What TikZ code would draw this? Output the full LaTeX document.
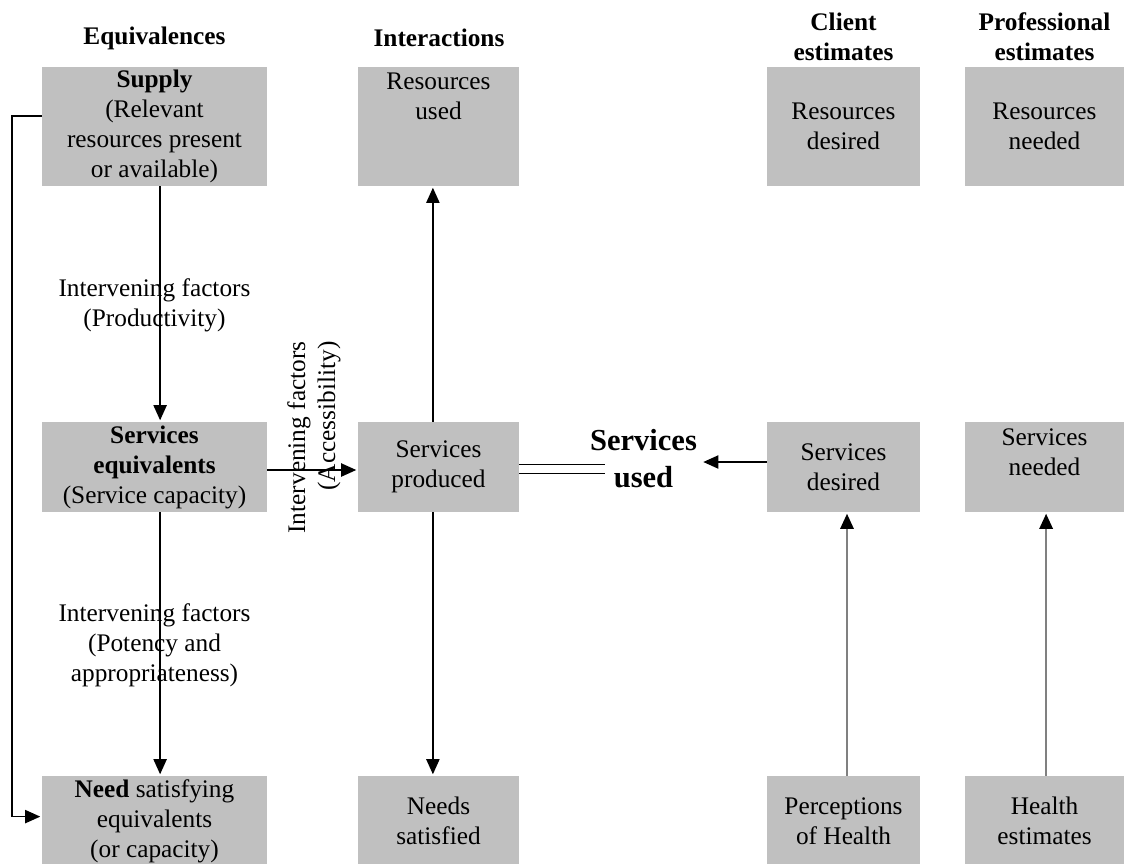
\documentclass[tikz,border=0pt]{standalone}
\usepackage{fontspec}
\setmainfont{Liberation Serif}
\usetikzlibrary{arrows.meta}
\definecolor{boxgray}{RGB}{192,192,192}
\tikzset{
  box/.style={fill=boxgray, inner sep=0pt, align=center, font=\fontsize{18}{21.3}\selectfont},
  colA/.style={minimum width=5.625cm},
  colB/.style={minimum width=4.025cm},
  colC/.style={minimum width=3.825cm},
  colD/.style={minimum width=3.975cm},
  rowA/.style={minimum height=2.975cm},
  rowB/.style={minimum height=2.25cm},
  rowC/.style={minimum height=2.25cm},
  head/.style={align=center, font=\fontsize{18}{21.3}\selectfont\bfseries},
  factor/.style={align=center, font=\fontsize{18}{21.3}\selectfont},
  arr/.style={-{Triangle[length=0.38cm,width=0.33cm,color=black]}, line width=1.2pt, shorten >=1pt},
  grayarr/.style={arr, draw=black!50, line width=1.8pt},
  dbl/.style={double, double distance=0.2cm, line width=1pt},
}
\begin{document}
\begin{tikzpicture}[x=0.025cm, y=-0.025cm]
  \useasboundingbox (0,0) rectangle (1124,863);
  % column heads
  \node[head] (equivh) at (154.5,38) {Equivalences};
  \node[head] (interh) at (439,38) {Interactions};
  \node[head] (clienth) at (843.5,37) {Client\\estimates};
  \node[head] (profh) at (1044.5,37) {Professional\\estimates};
  % boxes
  \node[box, colA, rowA] (supply) at (154.5,126.5) {\textbf{Supply}\\(Relevant\\resources present\\or available)};
  \node[box, colB, rowA] (resused) at (438.5,126.5) {Resources\\used\\~\\~};
  \node[box, colC, rowA] (resdes) at (843.5,126.5) {Resources\\desired};
  \node[box, colD, rowA] (resneed) at (1044.5,126.5) {Resources\\needed};
  \node[box, colA, rowB] (equiv) at (154.5,467) {\textbf{Services}\\\textbf{equivalents}\\(Service capacity)};
  \node[box, colB, rowB] (produced) at (438.5,467) {Services\\produced};
  \node[box, colC, rowB] (desired) at (843.5,467) {Services\\desired};
  \node[box, colD, rowB] (needed) at (1044.5,467) {Services\\needed\\~};
  \node[box, colA, rowC] (needeq) at (154.5,821) {\textbf{Need} satisfying\\equivalents\\(or capacity)};
  \node[box, colB, rowC] (needsat) at (438.5,821) {Needs\\satisfied};
  \node[box, colC, rowC] (perc) at (843.5,821) {Perceptions\\of Health};
  \node[box, colD, rowC] (healthest) at (1044.5,821) {Health\\estimates};
  \node[align=center, font=\fontsize{21.7}{26.3}\selectfont\bfseries] (used) at (643.5,459) {Services\\used};
  % factors
  \node[factor] (prodf) at (154.5,305) {Intervening factors\\(Productivity)};
  \node[factor] (potf) at (154.5,645) {Intervening factors\\(Potency and\\appropriateness)};
  \node[factor, rotate=90, align=right] (accf) at (314,437.5) {Intervening factors\\(Accessibility)};
  % connectors
  \draw[arr] ([xshift=0.14cm]supply.south) -- ([xshift=0.14cm]equiv.north);
  \draw[arr] ([xshift=0.14cm]equiv.south) -- ([xshift=0.14cm]needeq.north);
  \draw[arr] ([yshift=0.26cm]supply.west) -- ++(-30,0) |- ([yshift=0.11cm]needeq.west);
  \draw[arr] ([yshift=-0.075cm]equiv.east) -- ([yshift=-0.075cm]produced.west);
  \draw[arr] ([xshift=-0.14cm]produced.north) -- ([xshift=-0.14cm]resused.south);
  \draw[arr] ([xshift=-0.14cm]produced.south) -- ([xshift=-0.14cm]needsat.north);
  \draw[dbl] ([yshift=-0.05cm]produced.east) -- ++(86,0);
  \draw[arr] ([yshift=0.125cm]desired.west) -- ([yshift=0.125cm]desired.west -| used.east);
  \draw[grayarr] ([xshift=0.0875cm]perc.north) -- ([xshift=0.0875cm]desired.south);
  \draw[grayarr] ([xshift=0.04cm]healthest.north) -- ([xshift=0.04cm]needed.south);
\end{tikzpicture}
\end{document}
